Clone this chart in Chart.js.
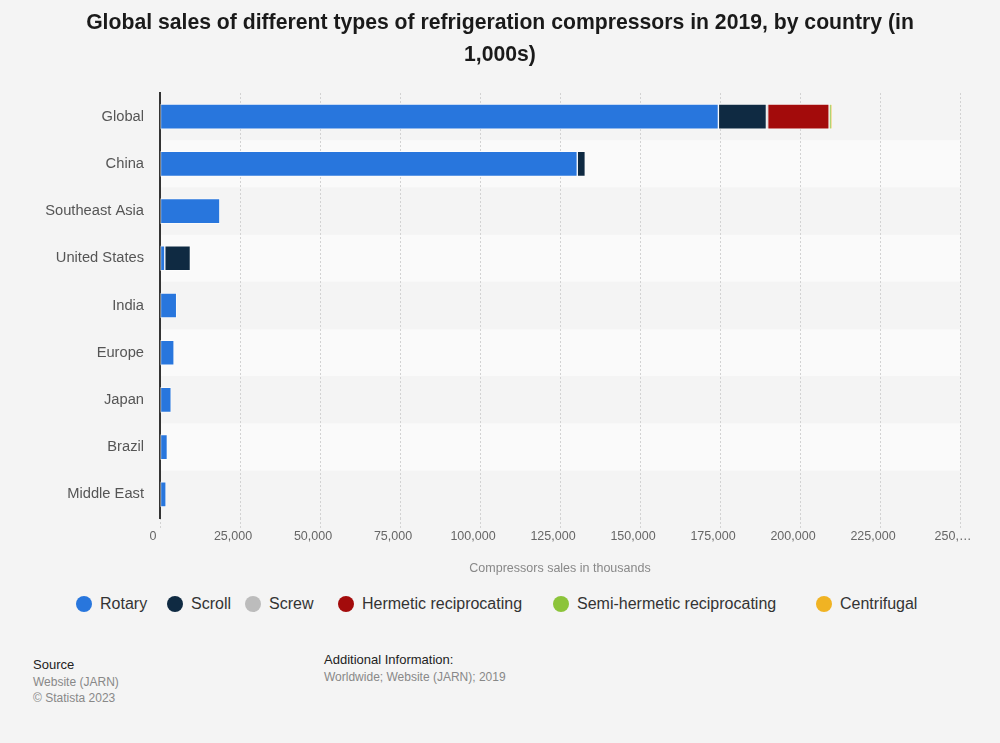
<!DOCTYPE html>
<html>
<head>
<meta charset="utf-8">
<script src="https://cdn.jsdelivr.net/npm/chart.js@4.4.1/dist/chart.umd.min.js"></script>
<style>
  body { margin: 0; background: #f4f4f4; font-family: "Liberation Sans", Arial, sans-serif; }
  #wrap { position: relative; width: 1000px; height: 743px; }
  #title { position: absolute; top: 6px; left: 20px; width: 960px; text-align: center;
           font-size: 21.2px; font-weight: bold; color: #1a1a1a; line-height: 32px; }
  #chartBox { position: absolute; top: 0; left: 0; width: 1000px; height: 585px; }
  #legend { position: absolute; top: 595px; left: 0; width: 1000px; height: 24px; }
  .item { position: absolute; top: 0; display: flex; align-items: center; font-size: 16px; color: #333; }
  .dot { width: 16px; height: 16px; border-radius: 50%; margin-right: 8px; }
  .foot { position: absolute; font-size: 12px; color: #888; line-height: 16.5px; }
  .foot b { font-weight: normal; color: #222; font-size: 13px; }
</style>
</head>
<body>
<div id="wrap">
  <div id="chartBox"><canvas id="chart"></canvas></div>
  <div id="title">Global sales of different types of refrigeration compressors in 2019, by country (in<br>1,000s)</div>
  <div id="legend"></div>
  <div class="foot" style="left:33px; top:657px;"><b>Source</b><br>Website (JARN)<br>© Statista 2023</div>
  <div class="foot" style="left:324px; top:652px;"><b>Additional Information:</b><br>Worldwide; Website (JARN); 2019</div>
</div>
<script>
  var countries = ['Global', 'China', 'Southeast Asia', 'United States', 'India', 'Europe', 'Japan', 'Brazil', 'Middle East'];
  var rotary = [174500, 130400, 18700, 1500, 5200, 4400, 3500, 2300, 1900];
  var scroll = [15000, 2500, 0, 8000, 0, 0, 0, 0, 0];
  var screw = [400, 0, 0, 0, 0, 0, 0, 0, 0];
  var hermetic = [19200, 0, 0, 0, 0, 0, 0, 0, 0];
  var semiHermetic = [700, 0, 0, 0, 0, 0, 0, 0, 0];
  var centrifugal = [50, 0, 0, 0, 0, 0, 0, 0, 0];
  var xTicks = [0, 25000, 50000, 75000, 100000, 125000, 150000, 175000, 200000, 225000, 250000];

  var seriesNames = ['Rotary', 'Scroll', 'Screw', 'Hermetic reciprocating', 'Semi-hermetic reciprocating', 'Centrifugal'];
  var seriesData = [rotary, scroll, screw, hermetic, semiHermetic, centrifugal];
  var seriesColors = ['#2876dd', '#0f2a42', '#bcbcbc', '#a30b0b', '#8cc43a', '#f0b323'];
  var legendLeft = [76, 167, 245, 338, 553, 816];

  // alternating row backgrounds
  var bands = {
    id: 'bands',
    beforeDraw: function (chart) {
      var c = chart.ctx, a = chart.chartArea, y = chart.scales.y;
      var step = (a.bottom - a.top) / countries.length;
      c.save();
      for (var i = 0; i < countries.length; i++) {
        c.fillStyle = i % 2 ? '#fafafa' : '#f4f4f4';
        c.fillRect(a.left, y.getPixelForValue(i) - step / 2, a.right - a.left, step);
      }
      c.restore();
    }
  };

  var datasets = seriesNames.map(function (name, i) {
    return {
      label: name,
      data: seriesData[i],
      backgroundColor: seriesColors[i],
      borderColor: 'rgba(255,255,255,0.55)',
      borderWidth: 1,
      barThickness: 25,
      borderSkipped: false
    };
  });

  new Chart(document.getElementById('chart'), {
    type: 'bar',
    data: { labels: countries, datasets: datasets },
    plugins: [bands],
    options: {
      indexAxis: 'y',
      responsive: true,
      maintainAspectRatio: false,
      animation: false,
      layout: { padding: { top: 93, right: 40, left: 0, bottom: 4 } },
      plugins: { legend: { display: false }, tooltip: { enabled: false } },
      scales: {
        y: {
          stacked: true,
          afterFit: function (s) { s.width = 160; },
          grid: { display: false, drawTicks: false },
          border: { display: true, color: '#333', width: 2 },
          ticks: { color: '#555', padding: 16, font: { family: 'Liberation Sans', size: 14.7 } }
        },
        x: {
          stacked: true,
          min: 0,
          max: 250000,
          afterFit: function (s) { s.height = 63; },
          afterBuildTicks: function (s) { s.ticks = xTicks.map(function (v) { return { value: v }; }); },
          grid: { color: '#d2d2d2', tickBorderDash: [2, 2], tickLength: 10, tickColor: '#d2d2d2' },
          border: { display: false, dash: [2, 2] },
          ticks: {
            color: '#666',
            padding: 1,
            labelOffset: -7,
            maxRotation: 0,
            autoSkip: false,
            font: { family: 'Liberation Sans', size: 12.5 },
            callback: function (v) { return v === 250000 ? '250,…' : v.toLocaleString('en-US'); }
          },
          title: { display: true, text: 'Compressors sales in thousands', color: '#888',
                   padding: { top: 8, bottom: 5 }, font: { family: 'Liberation Sans', size: 12.5 } }
        }
      }
    }
  });

  var legend = document.getElementById('legend');
  seriesNames.forEach(function (name, i) {
    var el = document.createElement('div');
    el.className = 'item';
    el.style.left = legendLeft[i] + 'px';
    el.innerHTML = '<span class="dot" style="background:' + seriesColors[i] + '"></span>' + name;
    legend.appendChild(el);
  });
</script>
</body>
</html>
